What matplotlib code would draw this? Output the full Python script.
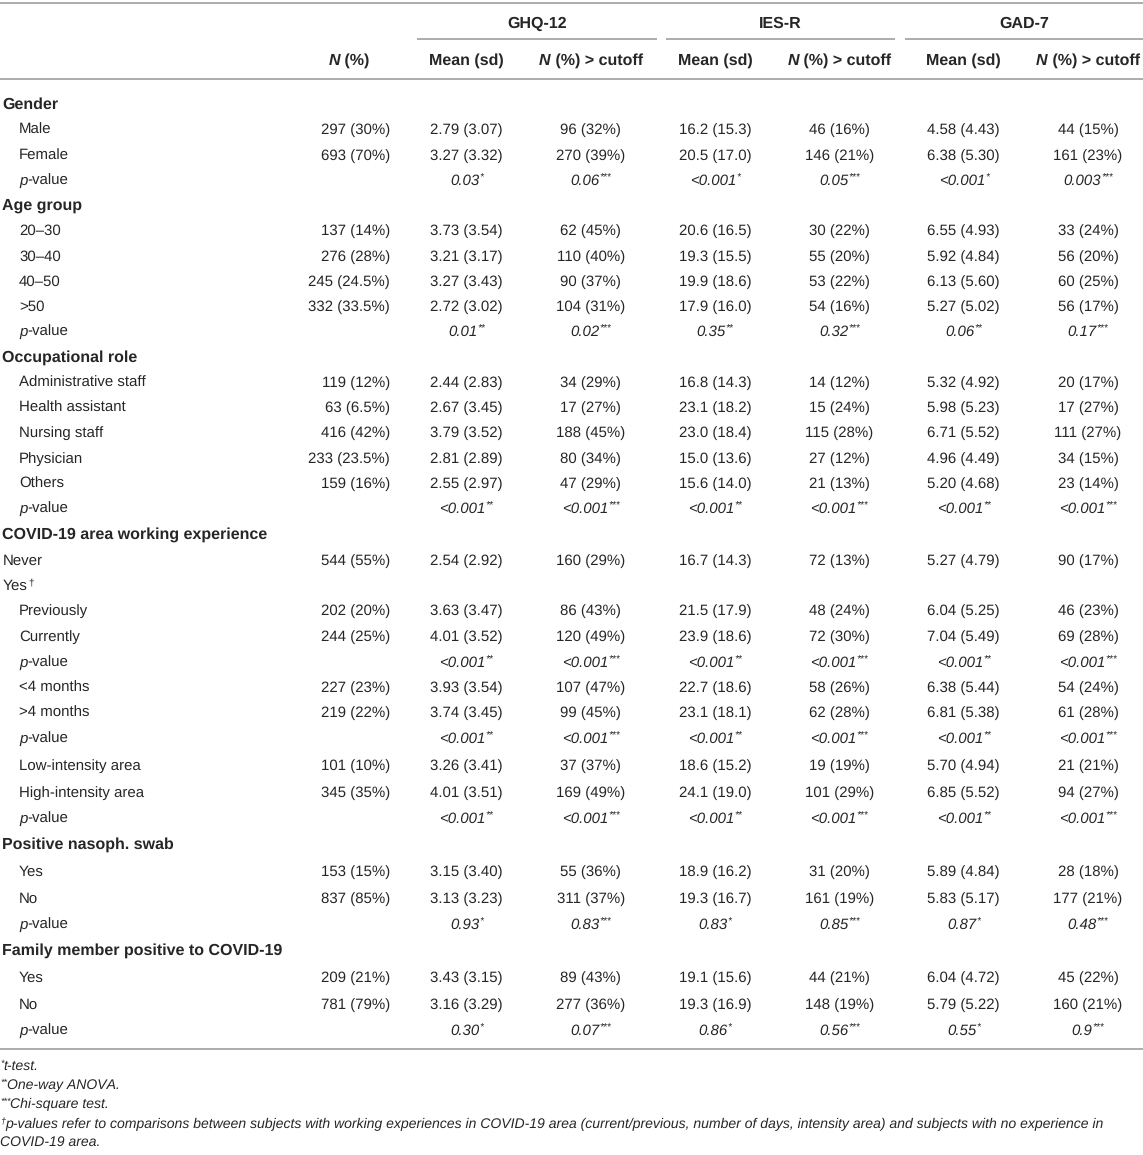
import numpy as np
import matplotlib
matplotlib.use("Agg")
import matplotlib.pyplot as plt

plt.rcParams["text.hinting"] = "no_hinting"
plt.rcParams["text.hinting_factor"] = 1
plt.rcParams["text.kerning_factor"] = 0

# ---------------- data ----------------
row_labels = ["Gender", "Male", "Female", "p-value",
              "Age group", "20–30", "30–40", "40–50", ">50", "p-value",
              "Occupational role", "Administrative staff", "Health assistant", "Nursing staff",
              "Physician", "Others", "p-value",
              "COVID-19 area working experience", "Never", "Yes", "Previously", "Currently", "p-value",
              "<4 months", ">4 months", "p-value", "Low-intensity area", "High-intensity area", "p-value",
              "Positive nasoph. swab", "Yes", "No", "p-value",
              "Family member positive to COVID-19", "Yes", "No", "p-value"]
row_kind = ["h", "i", "i", "p",
            "h", "i", "i", "i", "i", "p",
            "h", "i", "i", "i", "i", "i", "p",
            "h", "t", "y", "i", "i", "p", "i", "i", "p", "i", "i", "p",
            "h", "i", "i", "p",
            "h", "i", "i", "p"]

n_pct = ["", "297 (30%)", "693 (70%)", "",
         "", "137 (14%)", "276 (28%)", "245 (24.5%)", "332 (33.5%)", "",
         "", "119 (12%)", "63 (6.5%)", "416 (42%)", "233 (23.5%)", "159 (16%)", "",
         "", "544 (55%)", "", "202 (20%)", "244 (25%)", "", "227 (23%)", "219 (22%)", "",
         "101 (10%)", "345 (35%)", "",
         "", "153 (15%)", "837 (85%)", "",
         "", "209 (21%)", "781 (79%)", ""]
ghq_mean = ["", "2.79 (3.07)", "3.27 (3.32)", "0.03*",
            "", "3.73 (3.54)", "3.21 (3.17)", "3.27 (3.43)", "2.72 (3.02)", "0.01**",
            "", "2.44 (2.83)", "2.67 (3.45)", "3.79 (3.52)", "2.81 (2.89)", "2.55 (2.97)", "<0.001**",
            "", "2.54 (2.92)", "", "3.63 (3.47)", "4.01 (3.52)", "<0.001**", "3.93 (3.54)", "3.74 (3.45)",
            "<0.001**", "3.26 (3.41)", "4.01 (3.51)", "<0.001**",
            "", "3.15 (3.40)", "3.13 (3.23)", "0.93*",
            "", "3.43 (3.15)", "3.16 (3.29)", "0.30*"]
ghq_cut = ["", "96 (32%)", "270 (39%)", "0.06***",
           "", "62 (45%)", "110 (40%)", "90 (37%)", "104 (31%)", "0.02***",
           "", "34 (29%)", "17 (27%)", "188 (45%)", "80 (34%)", "47 (29%)", "<0.001***",
           "", "160 (29%)", "", "86 (43%)", "120 (49%)", "<0.001***", "107 (47%)", "99 (45%)",
           "<0.001***", "37 (37%)", "169 (49%)", "<0.001***",
           "", "55 (36%)", "311 (37%)", "0.83***",
           "", "89 (43%)", "277 (36%)", "0.07***"]
ies_mean = ["", "16.2 (15.3)", "20.5 (17.0)", "<0.001*",
            "", "20.6 (16.5)", "19.3 (15.5)", "19.9 (18.6)", "17.9 (16.0)", "0.35**",
            "", "16.8 (14.3)", "23.1 (18.2)", "23.0 (18.4)", "15.0 (13.6)", "15.6 (14.0)", "<0.001**",
            "", "16.7 (14.3)", "", "21.5 (17.9)", "23.9 (18.6)", "<0.001**", "22.7 (18.6)", "23.1 (18.1)",
            "<0.001**", "18.6 (15.2)", "24.1 (19.0)", "<0.001**",
            "", "18.9 (16.2)", "19.3 (16.7)", "0.83*",
            "", "19.1 (15.6)", "19.3 (16.9)", "0.86*"]
ies_cut = ["", "46 (16%)", "146 (21%)", "0.05***",
           "", "30 (22%)", "55 (20%)", "53 (22%)", "54 (16%)", "0.32***",
           "", "14 (12%)", "15 (24%)", "115 (28%)", "27 (12%)", "21 (13%)", "<0.001***",
           "", "72 (13%)", "", "48 (24%)", "72 (30%)", "<0.001***", "58 (26%)", "62 (28%)",
           "<0.001***", "19 (19%)", "101 (29%)", "<0.001***",
           "", "31 (20%)", "161 (19%)", "0.85***",
           "", "44 (21%)", "148 (19%)", "0.56***"]
gad_mean = ["", "4.58 (4.43)", "6.38 (5.30)", "<0.001*",
            "", "6.55 (4.93)", "5.92 (4.84)", "6.13 (5.60)", "5.27 (5.02)", "0.06**",
            "", "5.32 (4.92)", "5.98 (5.23)", "6.71 (5.52)", "4.96 (4.49)", "5.20 (4.68)", "<0.001**",
            "", "5.27 (4.79)", "", "6.04 (5.25)", "7.04 (5.49)", "<0.001**", "6.38 (5.44)", "6.81 (5.38)",
            "<0.001**", "5.70 (4.94)", "6.85 (5.52)", "<0.001**",
            "", "5.89 (4.84)", "5.83 (5.17)", "0.87*",
            "", "6.04 (4.72)", "5.79 (5.22)", "0.55*"]
gad_cut = ["", "44 (15%)", "161 (23%)", "0.003***",
           "", "33 (24%)", "56 (20%)", "60 (25%)", "56 (17%)", "0.17***",
           "", "20 (17%)", "17 (27%)", "111 (27%)", "34 (15%)", "23 (14%)", "<0.001***",
           "", "90 (17%)", "", "46 (23%)", "69 (28%)", "<0.001***", "54 (24%)", "61 (28%)",
           "<0.001***", "21 (21%)", "94 (27%)", "<0.001***",
           "", "28 (18%)", "177 (21%)", "0.48***",
           "", "45 (22%)", "160 (21%)", "0.9***"]

group_names = ["GHQ-12", "IES-R", "GAD-7"]
footnotes = [("*", "t-test."),
             ("**", "One-way ANOVA."),
             ("***", "Chi-square test."),
             ("†", "p-values refer to comparisons between subjects with working experiences in COVID-19 area (current/previous, number of days, intensity area) and subjects with no experience in"),
             ("", "COVID-19 area.")]

# ---------------- layout / style ----------------
W, H = 1143, 1155
FAM = "Liberation Sans"
TXT = "#262626"
RULE = "#a6a6a6"
FS = 10.8      # body
FSB = 11.3     # bold
FSF = 10.2     # footnotes

fig = plt.figure(figsize=(W / 100, H / 100), dpi=100)
ax = fig.add_axes([0, 0, 1, 1])
ax.set_xlim(0, W)
ax.set_ylim(H, 0)
ax.axis("off")
renderer = fig.canvas.get_renderer()


def _w(txt, **kw):
    t1 = ax.text(0, 0, "X" + txt + "X", family=FAM, **kw)
    t2 = ax.text(0, 0, "XX", family=FAM, **kw)
    w = t1.get_window_extent(renderer).width - t2.get_window_extent(renderer).width
    t1.remove(); t2.remove()
    return w


def rich(x, y, pieces, ha="left"):
    """pieces: list of (text, dict(size, style, weight, rise))"""
    widths = []
    for txt, st in pieces:
        widths.append(_w(txt, fontsize=st.get("size", FS), fontstyle=st.get("style", "normal"),
                         fontweight=st.get("weight", "normal")))
    total = sum(widths)
    x0 = x if ha == "left" else (x - total / 2 if ha == "center" else x - total)
    for (txt, st), w in zip(pieces, widths):
        ax.text(x0, y - st.get("rise", 0), txt, family=FAM, fontsize=st.get("size", FS),
                fontstyle=st.get("style", "normal"), fontweight=st.get("weight", "normal"),
                ha="left", va="baseline", color=TXT)
        x0 += w


# rules
ax.plot([0, W], [3, 3], color=RULE, lw=1.3, solid_capstyle="butt")
ax.plot([0, W], [79, 79], color=RULE, lw=1.3, solid_capstyle="butt")
ax.plot([0, W], [1049, 1049], color=RULE, lw=1.3, solid_capstyle="butt")
group_spans = [(417, 657), (666, 895), (905, 1143)]
for (a, b), name in zip(group_spans, group_names):
    ax.plot([a, b], [39, 39], color=RULE, lw=1.3, solid_capstyle="butt")
    rich((a + b) / 2, 28, [(name, dict(weight="bold", size=FSB))], ha="center")

col_c = [466.5 + 124.3 * k for k in range(6)]
N_RIGHT = 390
HB = dict(weight="bold", size=FSB)
HBI = dict(weight="bold", style="italic", size=FSB)
hy = 65
rich(349, hy, [("N", HBI), (" (%)", HB)], ha="center")
for g in range(3):
    rich(col_c[2 * g], hy, [("Mean (sd)", HB)], ha="center")
    rich(col_c[2 * g + 1], hy, [("N", HBI), (" (%) > cutoff", HB)], ha="center")

# rows
row_y = np.interp(np.arange(len(row_labels)), [0, 15, 25, 26, 36], [104, 483, 738, 765, 1030])
cols = [ghq_mean, ghq_cut, ies_mean, ies_cut, gad_mean, gad_cut]
SUP = dict(size=7.2, rise=4.5)
for i, (lab, kind) in enumerate(zip(row_labels, row_kind)):
    yb = round(row_y[i]) + 5
    if kind == "h":
        rich(2, yb, [(lab, dict(weight="bold", size=FSB))])
    elif kind == "t":
        rich(3, yb, [(lab, {})])
    elif kind == "y":
        rich(3, yb, [(lab, {}), ("†", SUP)])
    elif kind == "p":
        rich(19, yb, [("p", dict(style="italic")), ("-value", {})])
    else:
        rich(19, yb, [(lab, {})])
    if n_pct[i]:
        rich(N_RIGHT, yb, [(n_pct[i], {})], ha="right")
    for k, col in enumerate(cols):
        v = col[i]
        if not v:
            continue
        if kind == "p":
            core = v.rstrip("*")
            stars = v[len(core):]
            rich(col_c[k], yb, [(core, dict(style="italic")), (stars, dict(style="italic", **SUP))],
                 ha="center")
        else:
            rich(col_c[k], yb, [(v, {})], ha="center")

# footnotes
foot_y = [1066, 1085, 1104, 1124, 1142]
for (mark, txt), fy in zip(footnotes, foot_y):
    pieces = []
    if mark:
        pieces.append((mark, dict(style="italic", size=6.8, rise=4)))
    pieces.append((txt, dict(style="italic", size=FSF)))
    rich(0, fy + 4, pieces)

fig.savefig("out.png", dpi=100, facecolor="white")
